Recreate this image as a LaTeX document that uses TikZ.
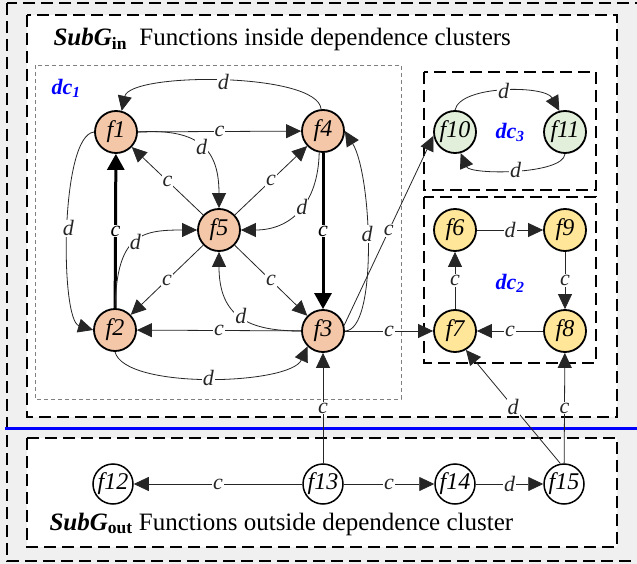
\documentclass[tikz,border=0pt]{standalone}
\usepackage{fontspec}
\setmainfont{Liberation Serif}
\usetikzlibrary{arrows.meta}
\definecolor{peach}{HTML}{F4C7A9}
\definecolor{sage}{HTML}{E2EFDA}
\definecolor{butter}{HTML}{FFE699}
\definecolor{bggray}{HTML}{F0F0F0}
\newcommand{\lblsize}{\fontsize{22}{24}\selectfont}
\newcommand{\fnsize}{\fontsize{24}{26}\selectfont}
\newcommand{\ttlsize}{\fontsize{25}{27}\selectfont}

\begin{document}
\begin{tikzpicture}[x=1pt, y=-1pt,
		fn/.style={circle, draw, line width=1.8pt, minimum size=42pt, inner sep=0pt, font=\fnsize\itshape},
		fout/.style={fn, line width=1.5pt, minimum size=40pt, fill=white},
		lbl/.style={fill=white, inner sep=1pt, font=\lblsize\itshape},
		dep/.style={line width=0.8pt, black!85, -{Triangle[length=15pt,width=14pt]}},
		dep thick/.style={line width=3pt, black, -{Triangle[length=16pt,width=17pt]}},
		box/.style={draw, line width=2.2pt, dash pattern=on 12pt off 6pt},
		dclbl/.style={font=\lblsize\bfseries\itshape, text=blue}]
		\useasboundingbox (0,0) rectangle (637,564);
		\clip (0,0) rectangle (637,564);
		\fill[bggray] (0,0) rectangle (637,564);
		\draw[box, line width=2pt] (7,3) rectangle (660,561);
		\draw[box, fill=white] (27,15) rectangle (617,417);
		\draw[box, fill=white] (27,438) rectangle (617,547);
		\draw[blue, line width=3pt] (5,428) -- (637,428);
		\draw[gray, line width=0.8pt, dash pattern=on 4pt off 3pt] (35,65) rectangle (401,399);
		\draw[box] (424,72) rectangle (596,190);
		\draw[box] (424,197) rectangle (596,363);
		\node[anchor=base west, font=\ttlsize] (tin) at (50,46) {\textbf{\textit{SubG}}\textsubscript{\textbf{in}}\ \ Functions inside dependence clusters};
		\node[anchor=base west, font=\ttlsize] (tout) at (46,530) {\textbf{\textit{SubG}}\textsubscript{\textbf{out}}\ Functions outside dependence cluster};
		\node[dclbl] (dc1) at (66,88) {dc\textsubscript{1}};
		\node[dclbl] (dc3) at (510,132) {dc\textsubscript{3}};
		\node[dclbl] (dc2) at (510,283) {dc\textsubscript{2}};
		\node[fn, fill=peach] (f1) at (116,132) {f1};
		\node[fn, fill=peach] (f4) at (323,131) {f4};
		\node[fn, fill=peach] (f5) at (219,230) {f5};
		\node[fn, fill=peach] (f2) at (115,330) {f2};
		\node[fn, fill=peach] (f3) at (323,331) {f3};
		\node[fn, fill=sage] (f10) at (455,132) {f10};
		\node[fn, fill=sage] (f11) at (565,132) {f11};
		\node[fn, fill=butter] (f6) at (455,230) {f6};
		\node[fn, fill=butter] (f9) at (565,230) {f9};
		\node[fn, fill=butter] (f7) at (455,331) {f7};
		\node[fn, fill=butter] (f8) at (565,331) {f8};
		\node[fout] (f12) at (113,484) {f12};
		\node[fout] (f13) at (323,484) {f13};
		\node[fout] (f14) at (455,484) {f14};
		\node[fout] (f15) at (564,484) {f15};
		\draw[dep] (f1) -- (f4) node[lbl, midway] {c};
		\draw[dep] (f4.95) .. controls (318,72) and (130,72) .. (f1.75) node[lbl, pos=.5] {d};
		\draw[dep] (f1.east) .. controls (200,128) and (219,150) .. (f5.north) node[lbl, pos=.5] {d};
		\draw[dep] (f5) -- (f1) node[lbl, midway] {c};
		\draw[dep] (f5) -- (f4) node[lbl, midway] {c};
		\draw[dep] (f4.260) .. controls (318,205) and (290,230) .. (f5.east) node[lbl, pos=.45] {d};
		\draw[dep thick] (f4) -- (f3) node[lbl, midway] {c};
		\draw[dep] (f3.east) .. controls (378,331) and (372,175) .. (f4.east) node[lbl, pos=.55] {d};
		\draw[dep] (f3.15) -- (f10.190) node[lbl, pos=.5] {c};
		\draw[dep thick] (f2) -- (f1) node[lbl, midway] {c};
		\draw[dep] (f1.west) .. controls (60,135) and (60,320) .. (f2.west) node[lbl, pos=.5] {d};
		\draw[dep] (f2.north) .. controls (117,235) and (140,230) .. (f5.west) node[lbl, pos=.5] {d};
		\draw[dep] (f5) -- (f2) node[lbl, midway] {c};
		\draw[dep] (f5) -- (f3) node[lbl, midway] {c};
		\draw[dep] (f3.west) .. controls (250,331) and (219,318) .. (f5.south) node[lbl, pos=.5] {d};
		\draw[dep] (f3) -- (f2) node[lbl, midway] {c};
		\draw[dep] (f2.south) .. controls (125,390) and (290,385) .. (f3.225) node[lbl, pos=.5] {d};
		\draw[dep] (f3) -- (f7) node[lbl, midway] {c};
		\draw[dep] (f10.north) .. controls (460,85) and (545,85) .. (f11.105) node[lbl, pos=.5] {d};
		\draw[dep] (f11.south) .. controls (563,175) and (470,175) .. (f10.285) node[lbl, pos=.5] {d};
		\draw[dep] (f6) -- (f9) node[lbl, midway] {d};
		\draw[dep] (f9) -- (f8) node[lbl, midway] {c};
		\draw[dep] (f8) -- (f7) node[lbl, midway] {c};
		\draw[dep] (f7) -- (f6) node[lbl, midway] {c};
		\draw[dep] (f13) -- (f3) node[lbl, midway] {c};
		\draw[dep] (f15.100) -- (f7.300) node[lbl, pos=.5] {d};
		\draw[dep] (f15) -- (f8) node[lbl, midway] {c};
		\draw[dep] (f13) -- (f12) node[lbl, midway] {c};
		\draw[dep] (f13) -- (f14) node[lbl, midway] {c};
		\draw[dep] (f14) -- (f15) node[lbl, midway] {d};
	\end{tikzpicture}
\end{document}
